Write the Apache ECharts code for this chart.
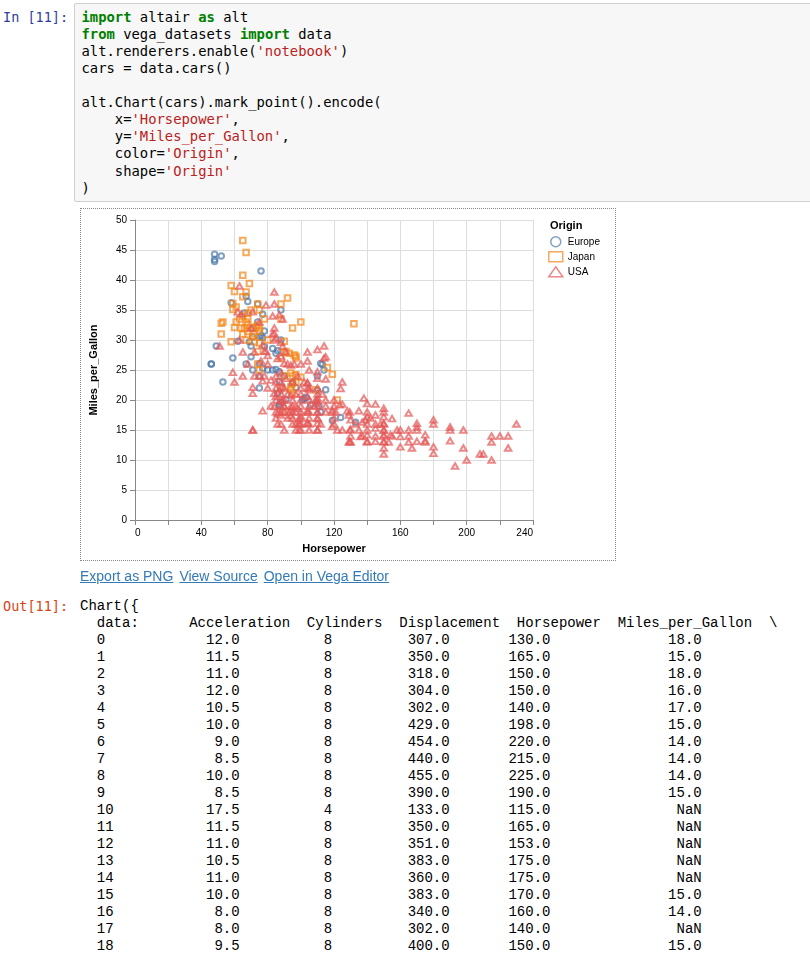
<!DOCTYPE html>
<html><head><meta charset="utf-8">
<script src="https://cdn.jsdelivr.net/npm/echarts@6/dist/echarts.min.js"></script>
<style>
html,body{margin:0;padding:0;background:#fff;}
body{width:810px;height:954px;overflow:hidden;position:relative;font-family:"Liberation Sans",Arial,Helvetica,sans-serif;}
.prompt{position:absolute;left:3px;font-family:"DejaVu Sans Mono",monospace;font-size:13.5px;line-height:17px;white-space:pre;}
#codebox{position:absolute;left:74px;top:3px;width:780px;height:197px;background:#f7f7f7;border:1px solid #cfcfcf;border-radius:2px;}
#code{position:absolute;left:81.5px;top:8.7px;margin:0;font-family:"DejaVu Sans Mono",monospace;font-size:13.85px;line-height:17.1px;color:#000;white-space:pre;}
.kw{color:#008000;font-weight:bold}
.st{color:#BA2121}
#chart{position:absolute;left:80px;top:208px;width:536px;height:353px;}
#frame{position:absolute;left:80px;top:208px;width:536px;height:353px;box-sizing:border-box;border:1px dotted #8a8a8a;pointer-events:none;}
#links{position:absolute;left:80px;top:567px;font-size:14px;line-height:18px;white-space:nowrap;}
#links a{color:#337ab7;text-decoration:underline;margin-right:6px;}
#out{position:absolute;left:80px;top:598px;margin:0;font-family:"Liberation Mono","Courier New",monospace;font-size:14px;line-height:17px;color:#000;white-space:pre;}
</style>
</head>
<body>
<div class="prompt" style="top:8.8px;color:#303F9F">In [11]:</div>
<div id="codebox"></div>
<pre id="code"><span class="kw">import</span> altair <span class="kw">as</span> alt
<span class="kw">from</span> vega_datasets <span class="kw">import</span> data
alt.renderers.enable(<span class="st">'notebook'</span>)
cars = data.cars()

alt.Chart(cars).mark_point().encode(
    x=<span class="st">'Horsepower'</span>,
    y=<span class="st">'Miles_per_Gallon'</span>,
    color=<span class="st">'Origin'</span>,
    shape=<span class="st">'Origin'</span>
)</pre>
<div id="chart"></div>
<div id="frame"></div>
<div id="links"><a>Export as PNG</a><a>View Source</a><a>Open in Vega Editor</a></div>
<div class="prompt" style="top:598px;color:#D84315">Out[11]:</div>
<pre id="out"></pre>
<script>
// ---- scatter data: [Horsepower, Miles_per_Gallon] ----
const originNames = ['Europe', 'Japan', 'USA'];
const europe = [
[46,26],[46,26],[48,43.1],[48,43.4],[48,44.3],[52,44],[76,41.5],
[58,36.2],[67,37.3],[68,36.4],[74,36],[77,34.3],[88,35],[66,34.5],
[49,29],[53,23],[59,27],[62,29.8],[67,26],[71,25],[70,29],[75,30.5],
[77,25.3],[75,24],[83,28.6],[86,28.2],[85,25.1],[87,24.7],[113,25.9],[114,25],
[110,24],[75,22],[86,21.1],[87,19.2],[91,20.1],[95,22.8],[97,22.1],[102,20.2],
[103,20.4],[106,19.2],[111,19],[112,18],[115,21.7],[119,16.6],[124,17.1],[133,16.3],
[70,27.2],[75,26.1],[80,25],[78,28.9],[77,30.4],[85,27.8],[87,23.1],[88,19.6],
[87,19],[95,23],[101,20],[112,26.1],[110,21.6],[69,29.7],[71,31.9],[78,31.5],
[76,30.7],[88,30],[71,30.5],[74,33],[83,25],[90,24]
];
const japan = [
[65,46.6],[67,44.6],[65,40.8],[58,39.1],[60,38.1],[67,38],[69,39.4],[65,37.2],
[59,36.1],[59,35.1],[74,36],[88,36],[92,37],[52,32.8],[53,33],[52,31],
[60,32.1],[64,32],[66,31.9],[68,32.5],[68,31.4],[73,32.2],[74,32.5],[65,34],
[68,33.6],[71,30.6],[72,29.7],[75,31.5],[67,30],[58,29.7],[95,32],[100,33],[132,32.7],
[90,29.8],[74,28.1],[91,28.1],[96,27.5],[97,27],[74,26],[97,24.2],[100,23.8],
[119,24.3],[116,25.4],[89,18],[94,22.2],[95,21.1],[109,21.7],[122,20],[93,27.8],
[97,27.3],[95,22.7],[94,21.7],[88,27],[90,24],[75,35],[70,35],[61,35.5],[63,33.5],
[78,33.5],[80,30],[75,32],[72,31],[88,33.5],[68,34.5],[61,33],[97,23],[95,24],
[88,22],[94,24.5],[75,25],[90,28],[65,31],[70,32],[67,33],[75,29.5]
];
const usa = [
[63,39],[84,38],[79,35.8],[84,36],[87,34.2],[89,33.5],[83,34],[62,34.7],[64,34.3],[71,34.7],
[84,32],[83,31],[85,30.3],[88,29.6],[51,29],[104,28],[104,26.5],[114,29],[114,27],[60,23],
[77,29.2],[78,28.1],[80,27.4],[89,28.9],[91,28],[88,27.3],[79,28.1],[84,31.1],[84,30],[86,26.9],
[90,26.1],[94,25.8],[91,23.6],[59,24.6],[71,22.1],[71,21.1],[71,15],[71,15],[77,18.2],[77,23.2],
[82,23.3],[84,21.1],[85,20.6],[85,20],[84,18.9],[86,17.8],[94,20.8],[94,18.3],[94,17.4],[98,18.6],
[100,17.3],[99,16.1],[100,15],[104,22.8],[104,22],[104,20.6],[104,18.2],[104,16.2],[110,24.7],[110,23.6],
[110,20.3],[110,19.5],[110,18],[110,16.9],[110,15],[119,18.3],[119,15.6],[87,21.7],[82,19],[89,22.2],
[89,20],[90,18.9],[93,18],[94,18.9],[97,18],[97,18.9],[99,16.9],[99,16],[99,15],[104,18],
[104,16.1],[104,22.9],[105,21.7],[109,20],[110,18],[110,16.1],[110,15],[119,18],[124,21.9],
[88,19],[88,20],[88,21],[90,20],[90,19],[90,18],[95,18],[95,19],[100,18],[100,19],
[100,17],[100,16],[105,18],[105,19],[105,17],[105,16],[105,15],[110,17],[110,19],[110,20],
[110,21],[110,22],[85,18],[85,17],[88,18],[86,16],[95,17],[97,16],[97,15],[88,16],
[90,15],[95,16],[100,20],[100,21],[95,20],[92,21],[88,23],[95,23],[98,24],[102,23],
[80,22],[85,22],[85,24],[88,24.5],[78,24],[75,24],[80,26],[68,26],[63,30],[65,28],
[70,32],[75,33],[72,28],[76,26.5],[85,23],[90,22],[97,21],[100,22],[105,22],[115,20],
[115,19],[115,18],[112,16],[120,17],[120,20],[115,23.5],[113,21],[105,20],[108,19],[92,17],
[88,17.5],[72,24],[65,24],[110,28.4],[115,27.2],[92,26],[96,26],[105,25],[100,26],[120,19],
[122,15],
[125,23],[125,19.3],[128,18.2],[129,17.5],[130,16.7],[130,15.1],[129,13],[130,13],[135,18.2],[138,20.3],
[140,19.4],[140,18],[140,17.2],[139,16.7],[137,16.3],[140,16],[140,14.2],[140,13.1],[136,13.9],[145,19.3],
[145,17.5],[145,15.3],[145,13.1],[150,18.6],[150,18],[150,17.2],[150,16.1],[150,15],[150,14.2],[150,13.1],
[150,13],[150,14],[150,15],[150,11],[154,14.2],[155,16.9],[153,13],[160,13.9],[160,12.2],[165,17.8],
[165,15],[165,14],[167,12],[170,16.1],[170,15.5],[170,15],[170,13.1],[175,14.2],[175,13.2],[180,16.7],
[180,16],[180,12.2],[180,11.1],[190,15.5],[190,15],[190,13.2],[193,9],[198,15],[198,12],[200,10],
[208,11],[210,11],[215,14],[215,13],[215,10],[220,14],[225,14],[225,12],[230,16],[150,16],
[140,15],[145,16],[150,12],[158,15],[155,14],[160,15],[165,13],[175,13],[121,18],[123.5,19.2],
[129.5,18],[129.5,15],[129.5,13.1],[140,13],[145,14],[148,16],[142,17],[135,15],[133,16],[137,14],
[130,14],[120,16],[125,15]
];
const xTicks = [0, 40, 80, 120, 160, 200, 240];
const yTicks = [0, 5, 10, 15, 20, 25, 30, 35, 40, 45, 50];

// ---- table data ----
const rowIndex = [0,1,2,3,4,5,6,7,8,9,10,11,12,13,14,15,16,17,18];
const acceleration = [12.0,11.5,11.0,12.0,10.5,10.0,9.0,8.5,10.0,8.5,17.5,11.5,11.0,10.5,11.0,10.0,8.0,8.0,9.5];
const cylinders = [8,8,8,8,8,8,8,8,8,8,4,8,8,8,8,8,8,8,8];
const displacement = [307,350,318,304,302,429,454,440,455,390,133,350,351,383,360,383,340,302,400];
const horsepower = [130,165,150,150,140,198,220,215,225,190,115,165,153,175,175,170,160,140,150];
const milesPerGallon = [18,15,18,16,17,15,14,14,14,15,null,null,null,null,null,15,14,null,15];
const tableHeader = ['Acceleration','Cylinders','Displacement','Horsepower','Miles_per_Gallon'];

(function buildTable(){
  function put(arr, s, col){ for(let i=0;i<s.length;i++) arr[col+i]=s[i]; }
  function line(len){ return new Array(len).fill(' '); }
  const lines = ['Chart({'];
  let h = line(84);
  put(h,'data:',2); put(h,tableHeader[0],13); put(h,tableHeader[1],27); put(h,tableHeader[2],38);
  put(h,tableHeader[3],52); put(h,tableHeader[4],64); put(h,'\\',82);
  lines.push(h.join('').replace(/\s+$/,''));
  const f = v => v===null ? 'NaN' : v.toFixed(1);
  for(let r=0;r<rowIndex.length;r++){
    const l = line(80);
    put(l,String(rowIndex[r]),2);
    const a=f(acceleration[r]); put(l,a,19-a.length);
    put(l,String(cylinders[r]),29);
    const d=f(displacement[r]); put(l,d,44-d.length);
    const hp=f(horsepower[r]); put(l,hp,56-hp.length);
    const m=f(milesPerGallon[r]); put(l,m,74-m.length);
    lines.push(l.join('').replace(/\s+$/,''));
  }
  document.getElementById('out').textContent = lines.join('\n');
})();

const colors = {Europe:'#4c78a8', Japan:'#f58518', USA:'#e45756'};
const chart = echarts.init(document.getElementById('chart'), null, {renderer:'canvas'});
const fontFam = '"Liberation Sans", Arial, Helvetica, sans-serif';
function mk(name, data, symbol, size){
  return {
    name, type:'scatter', data, symbol, symbolSize:size,
    itemStyle:{color:'rgba(0,0,0,0)', borderColor:colors[name], borderWidth:2, opacity:0.7},
    emphasis:{disabled:true}
  };
}
chart.setOption({
  animation:false,
  textStyle:{fontFamily:fontFam},
  title:{text:'Origin', left:465, top:7, textStyle:{fontSize:11, fontWeight:'bold', color:'#000', fontFamily:fontFam}},
  legend:{
    orient:'vertical', left:463, top:23, itemWidth:14, itemHeight:10, itemGap:3.5,
    data:originNames,
    textStyle:{fontSize:10, color:'#000', lineHeight:10, fontFamily:fontFam, padding:[0,0,0,0]},
    itemStyle:{borderWidth:1.5}
  },
  grid:{left:54, top:12, width:399, height:300},
  xAxis:{
    type:'value', min:0, max:240, interval:20,
    name:'Horsepower', nameLocation:'middle', nameGap:23,
    nameTextStyle:{fontSize:11, fontWeight:'bold', color:'#000', fontFamily:fontFam},
    axisLine:{show:true, lineStyle:{color:'#888', width:1}},
    axisTick:{show:true, length:5, lineStyle:{color:'#888'}},
    splitLine:{show:true, lineStyle:{color:'#ddd', width:1}},
    axisLabel:{fontSize:10, color:'#000', margin:8, fontFamily:fontFam,
      alignMinLabel:'left', alignMaxLabel:'right',
      formatter:v => xTicks.indexOf(v) >= 0 ? String(v) : ''}
  },
  yAxis:{
    type:'value', min:0, max:50, interval:5,
    name:'Miles_per_Gallon', nameLocation:'middle', nameGap:36, nameRotate:90,
    nameTextStyle:{fontSize:11, fontWeight:'bold', color:'#000', fontFamily:fontFam},
    axisLine:{show:true, lineStyle:{color:'#888', width:1}},
    axisTick:{show:true, length:5, lineStyle:{color:'#888'}},
    splitLine:{show:true, lineStyle:{color:'#ddd', width:1}},
    axisLabel:{fontSize:10, color:'#000', margin:8, fontFamily:fontFam,
      formatter:v => yTicks.indexOf(v) >= 0 ? String(v) : ''}
  },
  series:[
    mk('Europe', europe, 'circle', 5.5),
    mk('Japan', japan, 'rect', 5.5),
    mk('USA', usa, 'triangle', [6.5,5.5])
  ]
});
</script>
</body></html>
